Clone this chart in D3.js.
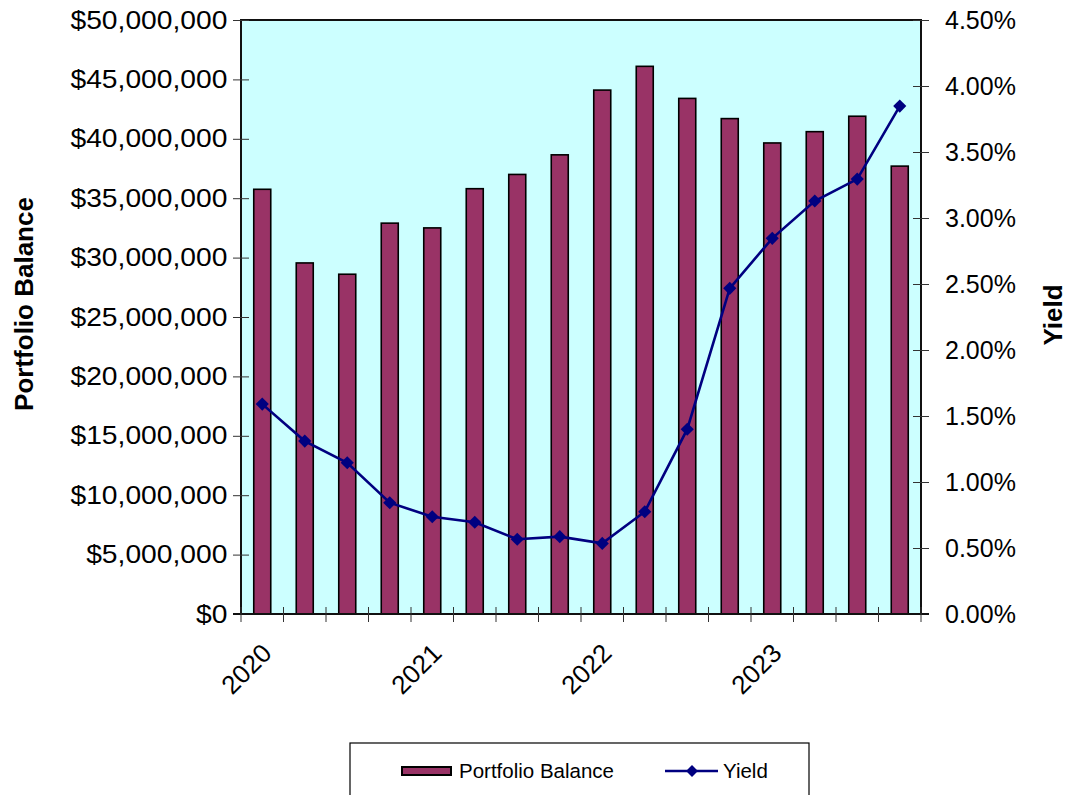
<!DOCTYPE html>
<html>
<head>
<meta charset="utf-8">
<script src="https://cdn.jsdelivr.net/npm/d3@7"></script>
<style>
  body { margin: 0; background: #fff; }
  svg { display: block; font-family: "Liberation Sans", Arial, sans-serif; }
</style>
</head>
<body>
<div id="chart"></div>
<script>
// quarters, 2020 Q1 .. 2023 Q4
var quarters = ["2020 Q1", "2020 Q2", "2020 Q3", "2020 Q4",
                "2021 Q1", "2021 Q2", "2021 Q3", "2021 Q4",
                "2022 Q1", "2022 Q2", "2022 Q3", "2022 Q4",
                "2023 Q1", "2023 Q2", "2023 Q3", "2023 Q4"];
var yearLabels = ["2020", "2021", "2022", "2023"];
var balance = [35750000, 29550000, 28600000, 32900000, 32500000, 35800000, 37000000, 38650000,
               44100000, 46100000, 43400000, 41700000, 39650000, 40600000, 41900000, 37700000];
var yieldPct = [1.59, 1.31, 1.146, 0.843, 0.737, 0.695, 0.566, 0.586,
                0.535, 0.775, 1.40, 2.467, 2.846, 3.129, 3.295, 3.848];
var balanceTicks = d3.range(0, 50000001, 5000000);
var yieldTicks = d3.range(0, 4.51, 0.5);

var W = 1067, H = 795;
var margin = { top: 20, left: 241, right: 146, bottom: 181 };
var width = W - margin.left - margin.right,
    height = H - margin.top - margin.bottom;

var svg = d3.select("#chart").append("svg").attr("width", W).attr("height", H);
var g = svg.append("g").attr("transform", "translate(" + margin.left + "," + margin.top + ")");

var x = d3.scaleBand().domain(quarters).range([0, width]).paddingInner(0.6).paddingOuter(0.3);
var xEdge = d3.scaleLinear().domain([0, quarters.length]).range([0, width]);
var y = d3.scaleLinear().domain([0, 50000000]).range([height, 0]);
var y2 = d3.scaleLinear().domain([0, 4.5]).range([height, 0]);

// plot background
g.append("rect").attr("width", width).attr("height", height).attr("fill", "#ccffff");

// bars
g.selectAll(".bar").data(balance).enter().append("rect")
  .attr("class", "bar")
  .attr("x", function (d, i) { return x(quarters[i]); })
  .attr("y", function (d) { return y(d); })
  .attr("width", x.bandwidth())
  .attr("height", function (d) { return height - y(d); })
  .attr("fill", "#993366")
  .attr("stroke", "#000")
  .attr("stroke-width", 1.6);

// yield line
var line = d3.line()
  .x(function (d, i) { return x(quarters[i]) + x.bandwidth() / 2; })
  .y(function (d) { return y2(d); });
g.append("path").datum(yieldPct).attr("d", line)
  .attr("fill", "none").attr("stroke", "#000080").attr("stroke-width", 2.6);
g.selectAll(".mk").data(yieldPct).enter().append("path")
  .attr("class", "mk")
  .attr("d", d3.symbol().type(d3.symbolDiamond2).size(110))
  .attr("transform", function (d, i) {
    return "translate(" + (x(quarters[i]) + x.bandwidth() / 2) + "," + y2(d) + ")";
  })
  .attr("fill", "#000080");

// plot border
g.append("rect").attr("width", width).attr("height", height)
  .attr("fill", "none").attr("stroke", "#111").attr("stroke-width", 2);

// left axis
var yAxis = g.append("g")
  .call(d3.axisLeft(y).tickValues(balanceTicks).tickSizeOuter(0)
    .tickFormat(function (d) { return "$" + d3.format(",")(d); }));
yAxis.select(".domain").remove();
yAxis.selectAll(".tick line").attr("x2", 8).attr("x1", -8).attr("stroke", "#333");
yAxis.selectAll("text").attr("font-size", 25).attr("fill", "#000").attr("x", -12)
  .attr("transform", "scale(1.13,1)");

// right axis
var y2Axis = g.append("g").attr("transform", "translate(" + width + ",0)")
  .call(d3.axisRight(y2).tickValues(yieldTicks).tickSizeOuter(0)
    .tickFormat(function (d) { return d3.format(".2f")(d) + "%"; }));
y2Axis.select(".domain").remove();
y2Axis.selectAll(".tick line").attr("x1", -8).attr("x2", 8).attr("stroke", "#333");
y2Axis.selectAll("text").attr("font-size", 25).attr("fill", "#000").attr("x", 24);

// bottom axis: ticks on category edges, year labels on first quarter
var xAxisG = g.append("g").attr("transform", "translate(0," + height + ")");
xAxisG.append("line").attr("x1", -8).attr("x2", width + 8).attr("stroke", "#111").attr("stroke-width", 2);
xAxisG.selectAll(".xt").data(d3.range(0, quarters.length + 1)).enter().append("line")
  .attr("x1", function (d) { return xEdge(d); })
  .attr("x2", function (d) { return xEdge(d); })
  .attr("y1", -7).attr("y2", 8)
  .attr("stroke", "#333");
xAxisG.selectAll(".xl").data(yearLabels).enter().append("text")
  .attr("transform", function (d) {
    var cx = x(d + " Q1") + x.bandwidth() / 2;
    return "translate(" + (cx - 2) + "," + 28 + ") rotate(-45)";
  })
  .attr("text-anchor", "end")
  .attr("dy", "0.7em")
  .attr("font-size", 26)
  .text(function (d) { return d; });

// axis titles
svg.append("text")
  .attr("transform", "translate(" + 33 + "," + 304 + ") rotate(-90)")
  .attr("text-anchor", "middle").attr("font-weight", "bold").attr("font-size", 26)
  .text("Portfolio Balance");
svg.append("text")
  .attr("transform", "translate(" + 1043 + "," + 315 + ") rotate(-90)")
  .attr("text-anchor", "middle").attr("font-weight", "bold").attr("font-size", 26)
  .attr("dy", "0.72em")
  .text("Yield");

// legend
var lg = svg.append("g").attr("transform", "translate(350,743)");
lg.append("rect").attr("width", 459).attr("height", 70)
  .attr("fill", "#fff").attr("stroke", "#000").attr("stroke-width", 1.2);
lg.append("rect").attr("x", 52).attr("y", 24).attr("width", 49).attr("height", 8)
  .attr("fill", "#993366").attr("stroke", "#000").attr("stroke-width", 2);
lg.append("text").attr("x", 109).attr("y", 35).attr("font-size", 20.5).text("Portfolio Balance");
lg.append("line").attr("x1", 315).attr("x2", 368).attr("y1", 28).attr("y2", 28)
  .attr("stroke", "#000080").attr("stroke-width", 2.6);
lg.append("path").attr("d", d3.symbol().type(d3.symbolDiamond2).size(90))
  .attr("transform", "translate(342,28)").attr("fill", "#000080");
lg.append("text").attr("x", 373).attr("y", 35).attr("font-size", 20.5).text("Yield");
</script>
</body>
</html>
